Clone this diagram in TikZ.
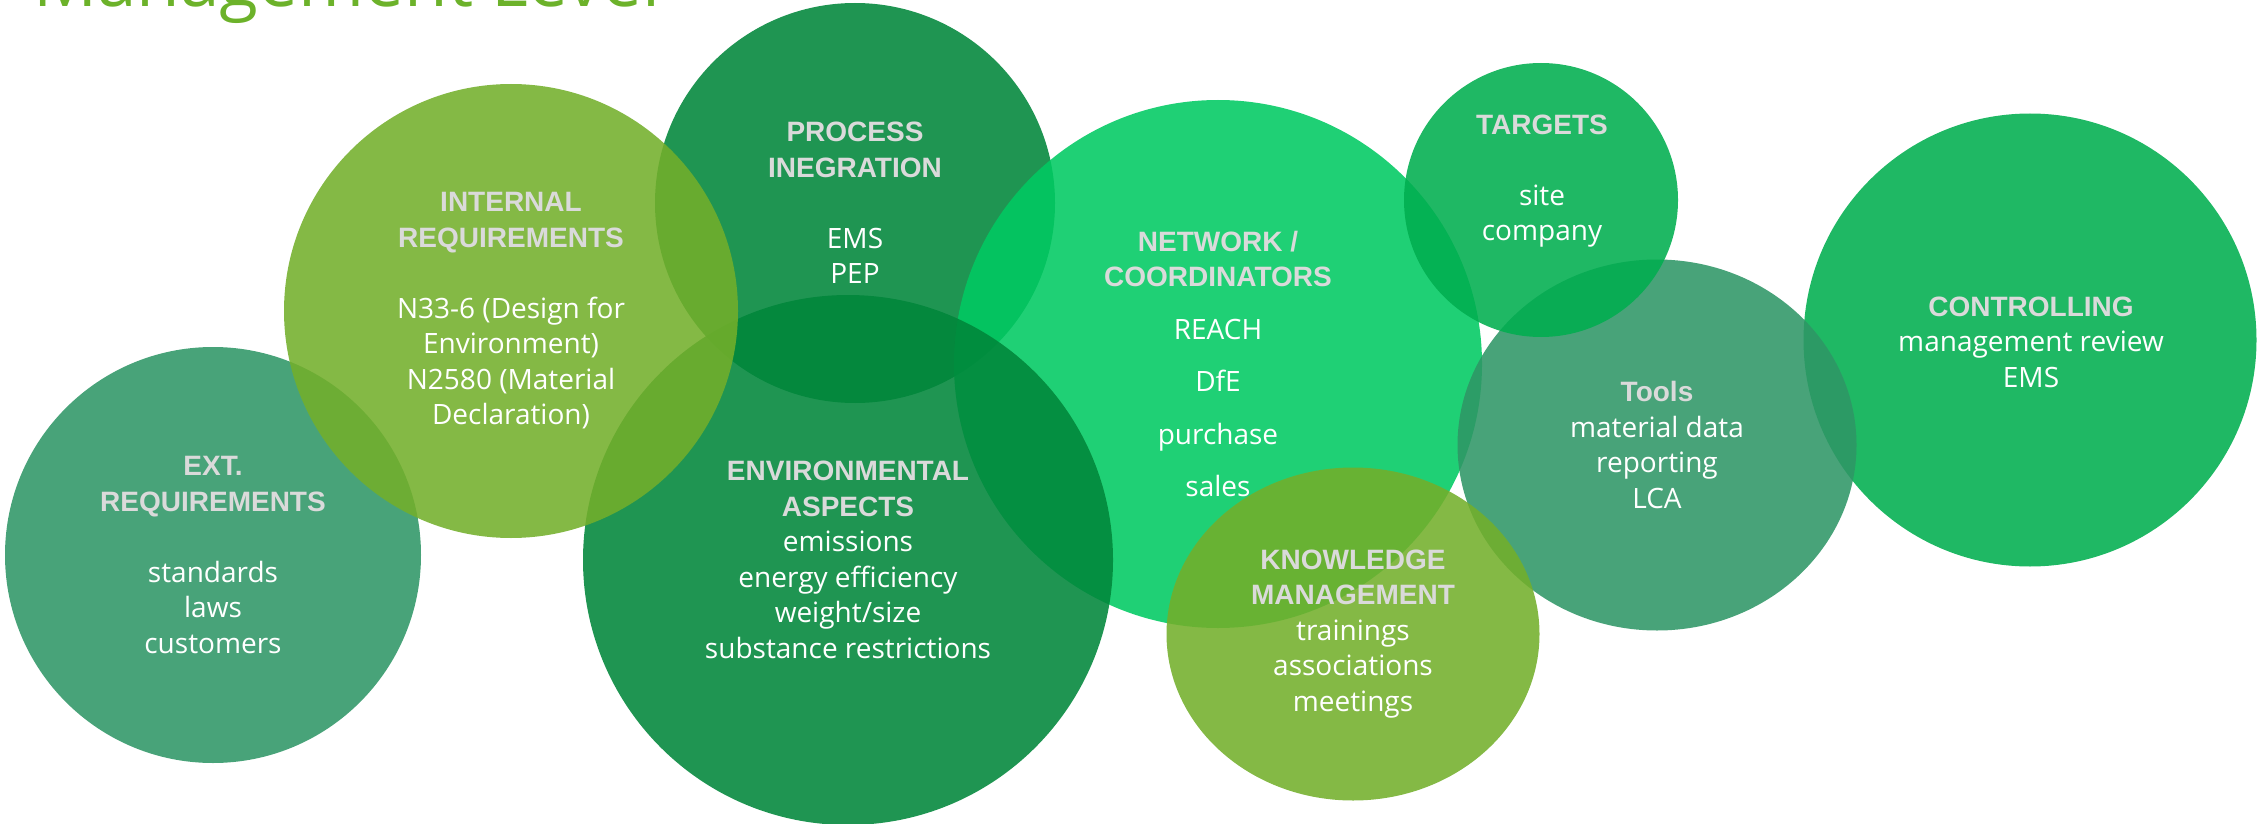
\documentclass[tikz,border=0pt]{standalone}
\usepackage{fontspec}
\setmainfont{Open Sans}
\newfontfamily\headfont{Liberation Sans}
\usetikzlibrary{shapes.geometric}

\definecolor{extgreen}{HTML}{2F9666}
\definecolor{lightgreen}{HTML}{73AF2B}
\definecolor{darkgreen}{HTML}{00863A}
\definecolor{brightgreen}{HTML}{00CA62}
\definecolor{midgreen}{HTML}{00AE4F}
\definecolor{titlegreen}{HTML}{6CB22A}
\definecolor{headgrey}{HTML}{DADADA}

\newcommand{\hd}[1]{{\headfont\bfseries\color{headgrey}#1}}

\begin{document}
\begin{tikzpicture}[x=1pt, y=-1pt,
    every node/.style={align=center, inner sep=0pt},
    bubble/.style={circle, fill opacity=0.88, minimum size=#1},
    oval/.style 2 args={ellipse, fill opacity=0.88, minimum width=#1, minimum height=#2},
    txt/.style={text=white, font=\fontsize{28}{35.5}\selectfont}]
    \clip (0,0) rectangle (2259,824);

    \node[anchor=base west, text=titlegreen, font=\fontsize{71}{80}\selectfont] (title) at (33,7) {Management Level};

    \node[bubble=416pt, fill=extgreen] (ext) at (213,555) {};
    \node[bubble=400pt, fill=darkgreen] (proc) at (855,203) {};
    \node[bubble=528pt, fill=brightgreen] (net) at (1218,364) {};
    \node[bubble=530pt, fill=darkgreen] (env) at (848,560) {};
    \node[bubble=454pt, fill=lightgreen] (int) at (511,311) {};
    \node[bubble=453pt, fill=midgreen] (ctrl) at (2030,340) {};
    \node[oval={399pt}{371pt}, fill=extgreen] (tools) at (1657,445) {};
    \node[bubble=274pt, fill=midgreen] (targets) at (1541,200) {};
    \node[oval={373pt}{333pt}, fill=lightgreen] (know) at (1353,634) {};

    \node[txt] (ext-txt) at (ext) {\hd{EXT.}\\\hd{REQUIREMENTS}\\[35.5pt]standards\\laws\\customers};
    \node[txt] (proc-txt) at (proc) {\hd{PROCESS}\\\hd{INEGRATION}\\[35.5pt]EMS\\PEP};
    \node[txt] (net-txt) at (net) {\hd{NETWORK /}\\\hd{COORDINATORS}\\[17pt]REACH\\[17pt]DfE\\[17pt]purchase\\[17pt]sales};
    \node[txt] (env-txt) at (env) {\hd{ENVIRONMENTAL}\\\hd{ASPECTS}\\emissions\\energy efficiency\\weight/size\\substance restrictions};
    \node[txt] (int-txt) at (int) {\hd{INTERNAL}\\\hd{REQUIREMENTS}\\[35.5pt]N33-6 (Design for\\Environment)\\N2580 (Material\\Declaration)};
    \node[txt] (ctrl-txt) at (2031,342) {\hd{CONTROLLING}\\management review\\EMS};
    \node[txt] (tools-txt) at (tools) {\hd{Tools}\\material data\\reporting\\LCA};
    \node[txt] (targets-txt) at (1542,181) {\hd{TARGETS}\\[35.5pt]site\\company};
    \node[txt] (know-txt) at (know) {\hd{KNOWLEDGE}\\\hd{MANAGEMENT}\\trainings\\associations\\meetings};
\end{tikzpicture}
\end{document}
